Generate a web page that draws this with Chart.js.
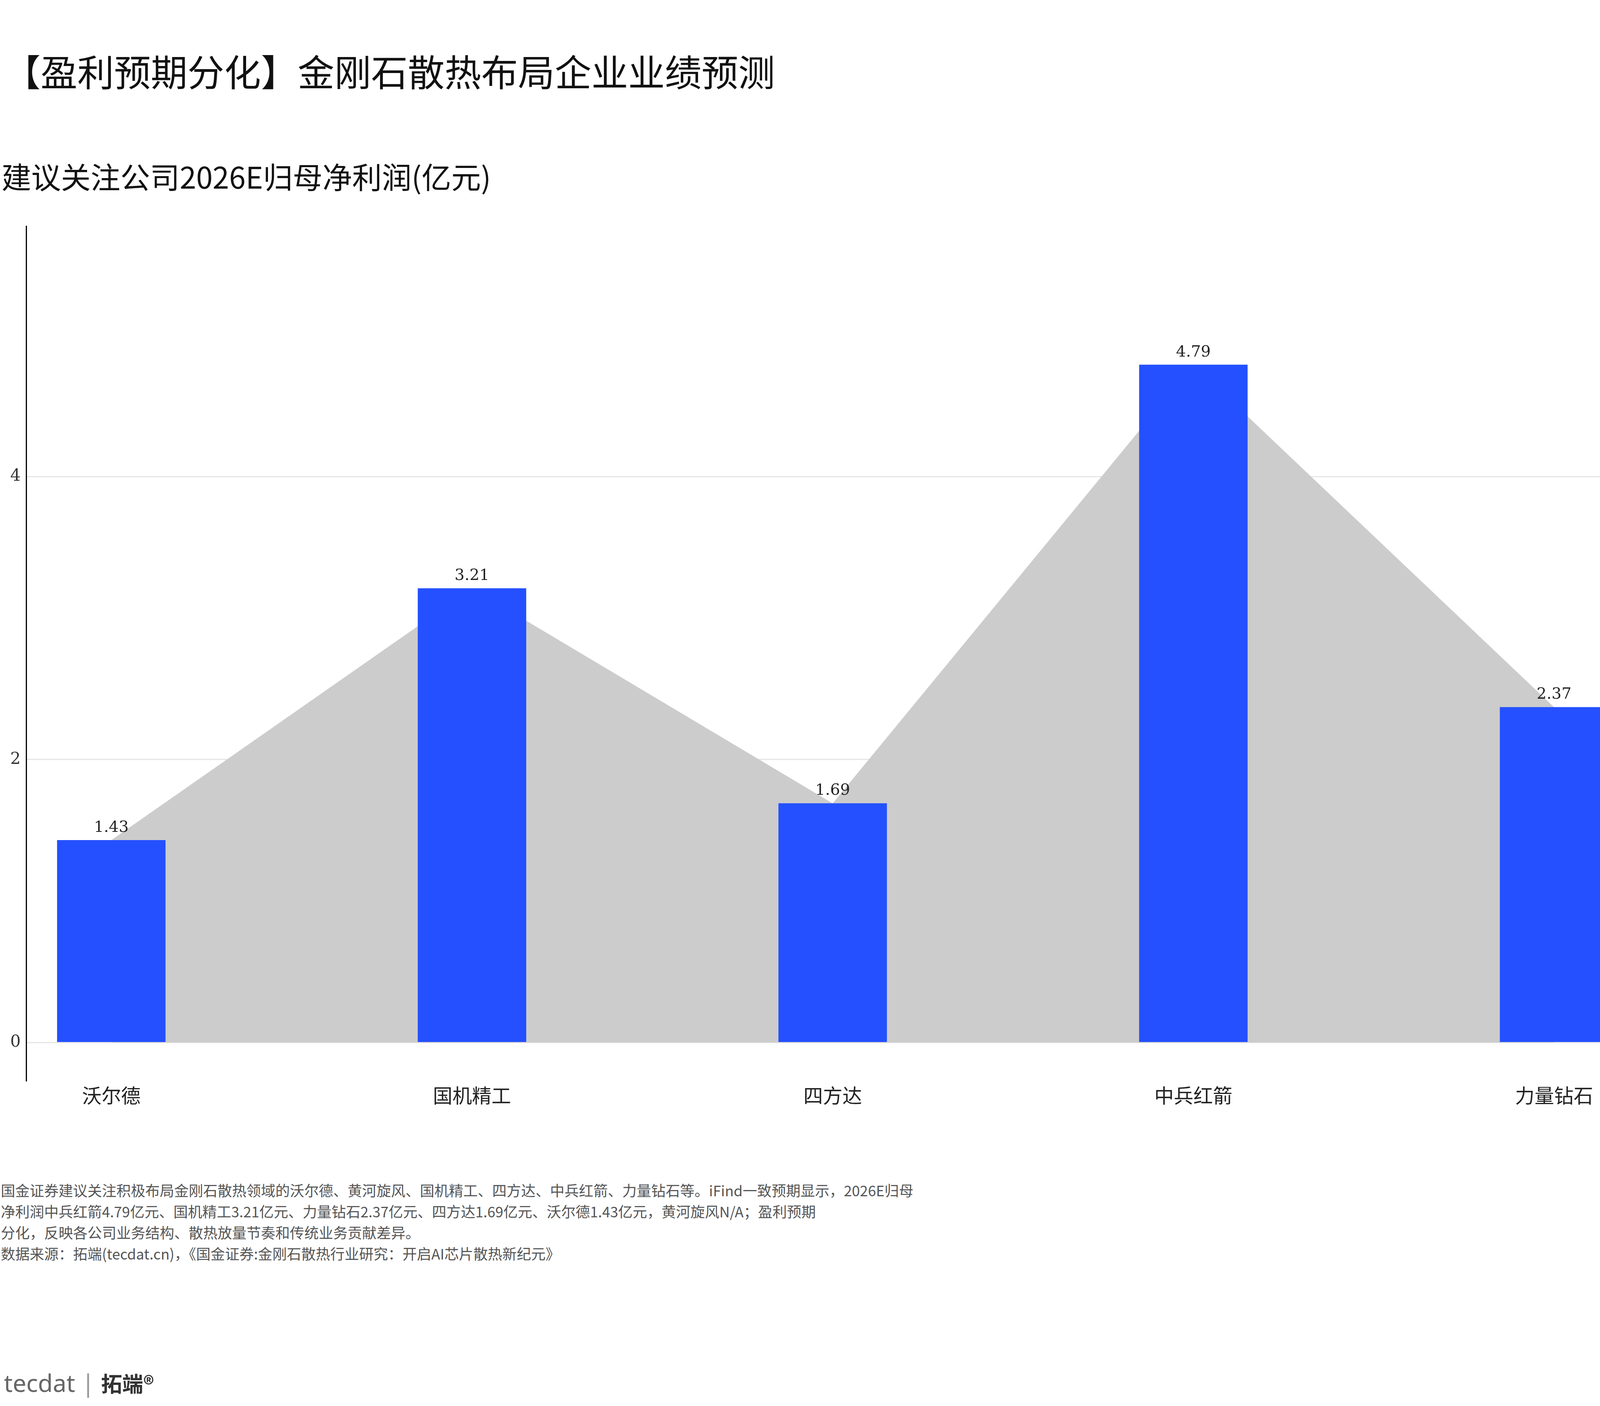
<!DOCTYPE html>
<html>
<head>
<meta charset="utf-8">
<script src="https://cdn.jsdelivr.net/npm/chart.js@4"></script>
<style>
  html, body { margin: 0; overflow: hidden; }
  body { width: 4200px; height: 3600px; background: #fff; position: relative; font-family: "Noto Sans CJK SC", sans-serif; color: #111; }
  #title { position: absolute; left: 10px; top: 115px; font-size: 94px; line-height: 130px; }
  #subtitle { position: absolute; left: 4px; top: 400px; font-size: 76px; line-height: 100px; }
  #chart-box { position: absolute; left: 0; top: 540px; width: 4200px; height: 2360px; }
  #notes { position: absolute; left: 2px; top: 3020px; font-size: 37px; line-height: 54px; color: #555; }
  #logo { position: absolute; left: 10px; top: 3500px; font-size: 62px; line-height: 80px; color: #666; font-family: "Noto Sans", sans-serif; }
  #logo b { color: #333; font-family: "Noto Sans CJK SC"; font-size: 54px; }
</style>
</head>
<body>
<div id="title">【盈利预期分化】金刚石散热布局企业业绩预测</div>
<div id="subtitle">建议关注公司2026E归母净利润(亿元)</div>
<div id="chart-box"><canvas id="chart"></canvas></div>
<div id="notes">
国金证券建议关注积极布局金刚石散热领域的沃尔德、黄河旋风、国机精工、四方达、中兵红箭、力量钻石等。iFind一致预期显示，2026E归母<br>
净利润中兵红箭4.79亿元、国机精工3.21亿元、力量钻石2.37亿元、四方达1.69亿元、沃尔德1.43亿元，黄河旋风N/A；盈利预期<br>
分化，反映各公司业务结构、散热放量节奏和传统业务贡献差异。<br>
数据来源：拓端(tecdat.cn)，《国金证券:金刚石散热行业研究：开启AI芯片散热新纪元》
</div>
<div id="logo">tecdat <span style="color:#999">|</span> <b>拓端®</b></div>
<script>
const companies = ['沃尔德', '国机精工', '四方达', '中兵红箭', '力量钻石'];
const profits = [1.43, 3.21, 1.69, 4.79, 2.37];
const yTicks = [0, 2, 4];

const points = companies.map((c, i) => ({ x: i, y: profits[i] }));

const labelPlugin = {
  id: 'valueLabels',
  afterDatasetsDraw(chart) {
    const { ctx, scales } = chart;
    ctx.save();
    ctx.font = '40px "DejaVu Serif", serif';
    ctx.fillStyle = '#222';
    ctx.textAlign = 'center';
    ctx.textBaseline = 'bottom';
    profits.forEach((v, i) => {
      ctx.fillText(v.toFixed(2), scales.x.getPixelForValue(i), scales.y.getPixelForValue(v) - 12);
    });
    ctx.restore();
  }
};

new Chart(document.getElementById('chart').getContext('2d'), {
  data: {
    datasets: [
      {
        type: 'bar',
        data: points,
        backgroundColor: '#2450ff',
        barThickness: 277,
        order: 1
      },
      {
        type: 'line',
        data: points,
        fill: 'origin',
        backgroundColor: '#cccccc',
        borderWidth: 0,
        pointRadius: 0,
        tension: 0,
        order: 2
      }
    ]
  },
  options: {
    responsive: true,
    maintainAspectRatio: false,
    devicePixelRatio: 1,
    animation: false,
    layout: { padding: { top: 25, right: 0, left: 0, bottom: 0 } },
    plugins: { legend: { display: false }, tooltip: { enabled: false } },
    scales: {
      x: {
        type: 'linear',
        offset: false,
        min: -0.236,
        max: 4.24,
        afterBuildTicks: s => { s.ticks = companies.map((c, i) => ({ value: i })); },
        afterFit: s => { s.height = 133; },
        ticks: {
          callback: v => companies[v],
          font: { size: 50, family: '"Noto Sans CJK SC"' },
          color: '#222',
          padding: 0
        },
        grid: { display: false },
        border: { display: false }
      },
      y: {
        min: -0.27,
        max: 5.77,
        afterBuildTicks: s => { s.ticks = yTicks.map(v => ({ value: v })); },
        afterFit: s => { s.width = 67; },
        ticks: {
          font: { size: 42, family: '"DejaVu Serif", serif' },
          color: '#333',
          padding: 14
        },
        grid: { color: '#e6e6e6', lineWidth: 3, drawTicks: false },
        border: { display: true, color: '#000', width: 3 }
      }
    }
  },
  plugins: [labelPlugin]
});
</script>
</body>
</html>
